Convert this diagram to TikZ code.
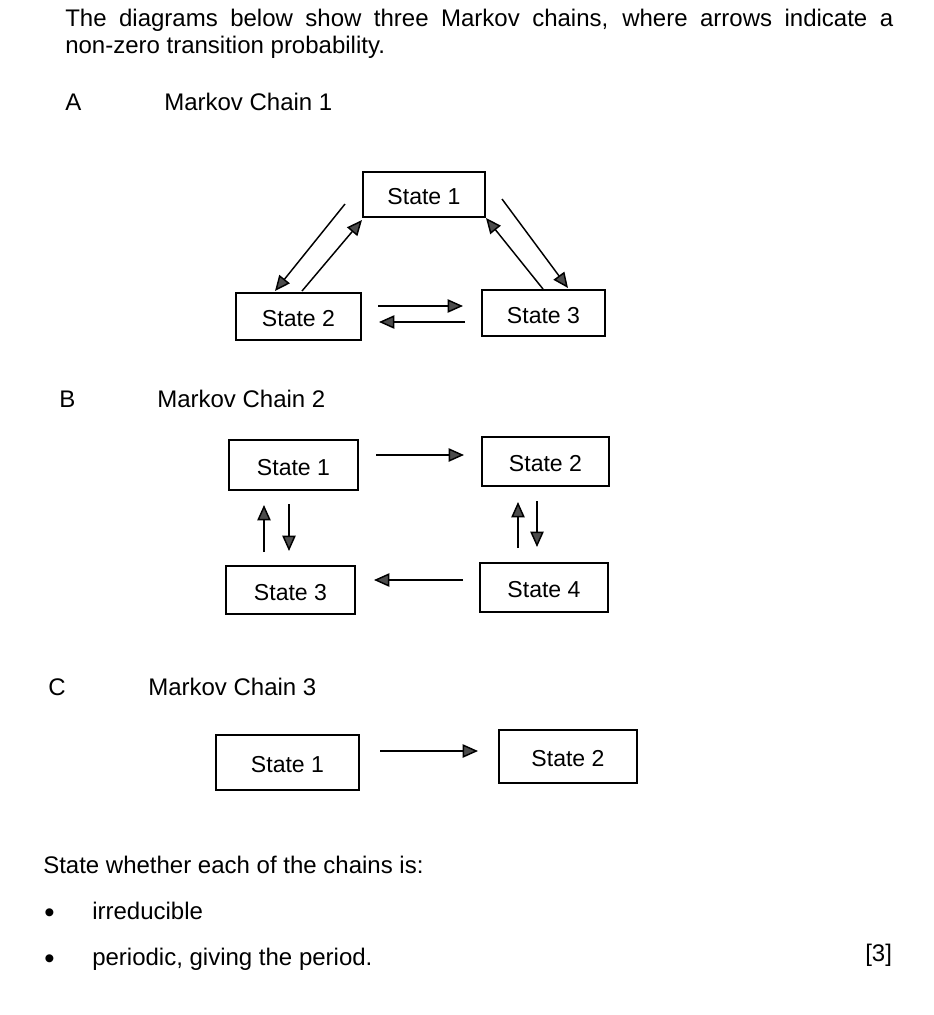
\documentclass[tikz,border=0pt]{standalone}
\usepackage{fontspec}
\setmainfont{Liberation Sans}
\usetikzlibrary{arrows.meta}
\begin{document}
\begin{tikzpicture}[x=0.75pt,y=-0.75pt,
  txt/.style={anchor=base west,inner sep=0pt,font=\fontsize{18pt}{21pt}\selectfont},
  bul/.style={anchor=base west,inner sep=0pt,font=\fontsize{22pt}{24pt}\selectfont},
  state/.style={draw,line width=1.2pt,inner sep=0pt,text height=15pt,text depth=0pt,font=\fontsize{17.3pt}{20pt}\selectfont},
  box/.style n args={2}{minimum width=#1*0.75pt,minimum height=#2*0.75pt},
  tr/.style={line width=1.1pt,-{Triangle[length=11.5pt,width=10pt,fill=black!70]}}]
\useasboundingbox (0,0) rectangle (933,1015);
\fill[white] (0,0) rectangle (933,1015);

% texts
\node[txt] (l1) at (65,26.5) {\makebox[621pt][s]{The diagrams below show three Markov chains, where arrows indicate a}};
\node[txt] (l2) at (65,53) {non-zero transition probability.};
\node[txt] (la) at (65,110) {A};
\node[txt] (ta) at (164,110) {Markov Chain 1};
\node[txt] (lb) at (59,407) {B};
\node[txt] (tb) at (157,407) {Markov Chain 2};
\node[txt] (lc) at (48,695) {C};
\node[txt] (tc) at (148,695) {Markov Chain 3};
\node[txt] (q) at (43,873) {State whether each of the chains is:};
\node[bul] (bu1) at (44,922.5) {•};
\node[txt] (i1) at (92,919) {irreducible};
\node[bul] (bu2) at (44,968.5) {•};
\node[txt] (i2) at (92,965) {periodic, giving the period.};
\node[txt] (mk) at (865,961) {[3]};

% Chain A
\node[state,box={122}{45}] (a1) at (424,194.5) {State 1};
\node[state,box={125}{47}] (a2) at (298.5,316.5) {State 2};
\node[state,box={123}{46}] (a3) at (543.5,313) {State 3};
\draw[tr] ([shift={(-79,9.5)}]a1.center) -- ([shift={(-23.5,-25.5)}]a2.center);
\draw[tr] ([shift={(3.5,-25.5)}]a2.center) -- ([shift={(-62,25.5)}]a1.center);
\draw[tr] ([shift={(78,4.5)}]a1.center) -- ([shift={(24.5,-25)}]a3.center);
\draw[tr] ([shift={(-0.5,-24)}]a3.center) -- ([shift={(62,23.5)}]a1.center);
\draw[tr] ([shift={(79.5,-10.5)}]a2.center) -- ([shift={(-80.5,-7)}]a3.center);
\draw[tr] ([shift={(-78.5,9)}]a3.center) -- ([shift={(80.5,5.5)}]a2.center);

% Chain B
\node[state,box={129}{50}] (b1) at (293.5,465) {State 1};
\node[state,box={127}{49}] (b2) at (545.5,461.5) {State 2};
\node[state,box={129}{48}] (b3) at (290.5,590) {State 3};
\node[state,box={128}{49}] (b4) at (544,587.5) {State 4};
\draw[tr] ([shift={(82.5,-10)}]b1.center) -- ([shift={(-81.5,-6.5)}]b2.center);
\draw[tr] ([shift={(-81,-7.5)}]b4.center) -- ([shift={(83.5,-10)}]b3.center);
\draw[tr] ([shift={(-26.5,-38)}]b3.center) -- ([shift={(-29.5,40)}]b1.center);
\draw[tr] ([shift={(-4.5,39)}]b1.center) -- ([shift={(-1.5,-39)}]b3.center);
\draw[tr] ([shift={(-26,-39.5)}]b4.center) -- ([shift={(-27.5,40.5)}]b2.center);
\draw[tr] ([shift={(-8.5,39.5)}]b2.center) -- ([shift={(-7,-40.5)}]b4.center);

% Chain C
\node[state,box={143}{55}] (c1) at (287.5,762.5) {State 1};
\node[state,box={138}{53}] (c2) at (568,756.5) {State 2};
\draw[tr] ([shift={(92.5,-11.5)}]c1.center) -- ([shift={(-90,-5.5)}]c2.center);
\end{tikzpicture}
\end{document}
